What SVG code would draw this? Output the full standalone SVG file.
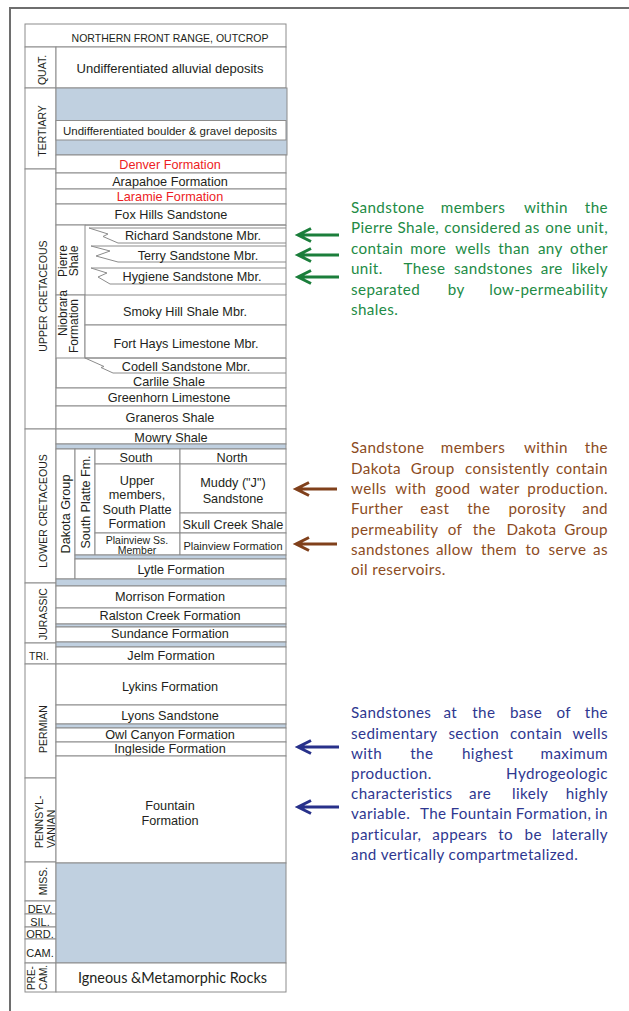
<svg xmlns="http://www.w3.org/2000/svg" width="629" height="1011" viewBox="0 0 629 1011">
<style>
.frame{stroke:#6e6e6e;stroke-width:2;fill:none}
.cell{fill:#fff;stroke:#8c8c8c;stroke-width:1}
.ln{fill:none;stroke:#8c8c8c;stroke-width:1}
.blue{fill:#c0d0e0;stroke:#8c8c8c;stroke-width:1}
.t{font-family:"Liberation Sans",Arial,sans-serif;font-size:12.7px;fill:#231f20;text-anchor:middle}
.hdr{font-size:10.5px}
.age{font-size:10.5px}
.sm{font-size:11px}
.xs{font-size:10.5px}
.st{text-anchor:start}
.red{fill:#ed1c24}
.note{font-family:Lato,"Open Sans",sans-serif;font-size:15.2px;letter-spacing:0.4px}
.e{text-anchor:end}
.gn{fill:#228b45}
.br{fill:#8c4b22}
.bl{fill:#2e3790}
.arr{fill:none;stroke-width:3;stroke-linejoin:miter}
.ag{stroke:#1b7e3b}
.ab{stroke:#80401b}
.an{stroke:#28318a}
</style>
<path class="frame" d="M10,1011 V8 H629"/>
<rect x="25" y="24" width="261" height="968" fill="#fff"/>

<g id="header"><rect class="cell" x="25" y="24" width="261" height="23"/><text class="t hdr" x="170" y="42">NORTHERN FRONT RANGE, OUTCROP</text></g>

<g id="age-quat"><rect class="cell" x="25" y="47" width="31" height="41"/><text class="t age" transform="translate(46,70) rotate(-90)">QUAT.</text></g>
<g id="age-tertiary"><rect class="cell" x="25" y="88" width="31" height="81"/><text class="t age" transform="translate(46,131) rotate(-90)">TERTIARY</text></g>
<g id="age-upper-cretaceous"><rect class="cell" x="25" y="169" width="31" height="260"/><text class="t age" transform="translate(47,296) rotate(-90)">UPPER CRETACEOUS</text></g>
<g id="age-lower-cretaceous"><rect class="cell" x="25" y="429" width="31" height="154"/><text class="t age" transform="translate(47,511) rotate(-90)">LOWER CRETACEOUS</text></g>
<g id="age-jurassic"><rect class="cell" x="25" y="583" width="31" height="60"/><text class="t age" transform="translate(47,614) rotate(-90)">JURASSIC</text></g>
<g id="age-triassic"><rect class="cell" x="25" y="643" width="31" height="21"/><text class="t age" x="39" y="660">TRI.</text></g>
<g id="age-permian"><rect class="cell" x="25" y="664" width="31" height="114"/><text class="t age" transform="translate(47,729) rotate(-90)">PERMIAN</text></g>
<g id="age-pennsylvanian"><rect class="cell" x="25" y="778" width="31" height="84"/><text class="t age st" transform="translate(43,848) rotate(-90)">PENNSYL-</text><text class="t age st" transform="translate(55,848) rotate(-90)">VANIAN</text></g>
<g id="age-miss"><rect class="cell" x="25" y="862" width="31" height="39"/><text class="t age" transform="translate(47,881) rotate(-90)">MISS.</text></g>
<g id="age-dev"><rect class="cell" x="25" y="901" width="31" height="13"/><text class="t sm" x="40" y="912.5">DEV.</text></g>
<g id="age-sil"><rect class="cell" x="25" y="914" width="31" height="13"/><text class="t sm" x="40" y="925.5">SIL.</text></g>
<g id="age-ord"><rect class="cell" x="25" y="927" width="31" height="12"/><text class="t sm" x="40" y="938">ORD.</text></g>
<g id="age-cam"><rect class="cell" x="25" y="939" width="31" height="24"/><text class="t sm" x="40" y="957">CAM.</text></g>
<g id="age-precam"><rect class="cell" x="25" y="963" width="31" height="29"/><text class="t" style="font-size:10px;text-anchor:start" transform="translate(35,990) rotate(-90)">PRE-</text><text class="t" style="font-size:10px;text-anchor:start" transform="translate(47,990) rotate(-90)">CAM.</text></g>

<g id="quat-alluvial"><rect class="cell" x="56" y="47" width="230" height="41"/><text class="t" style="font-size:13px" x="170" y="73">Undifferentiated alluvial deposits</text></g>
<g id="tertiary-gap"><rect class="blue" x="56" y="88" width="231" height="67"/></g>
<g id="boulder-gravel"><rect class="cell" x="56" y="120.5" width="230" height="19.5"/><text class="t" style="font-size:11.5px" x="170" y="134.5">Undifferentiated boulder &amp; gravel deposits</text></g>
<g id="denver"><rect class="cell" x="56" y="155" width="230" height="18"/><text class="t red" x="170" y="168.5">Denver Formation</text></g>
<g id="arapahoe"><rect class="cell" x="56" y="173" width="230" height="16"/><text class="t" x="170" y="185.5">Arapahoe Formation</text></g>
<g id="laramie"><rect class="cell" x="56" y="189" width="230" height="15"/><text class="t red" x="170" y="201">Laramie Formation</text></g>
<g id="fox-hills"><rect class="cell" x="56" y="204" width="230" height="21"/><text class="t" x="171" y="219">Fox Hills Sandstone</text></g>
<g id="pierre-shale"><rect class="cell" x="56" y="225" width="29" height="70"/><path class="ln" d="M85,225 H286 V295"/><text class="t" style="font-size:12px" transform="translate(67,261) rotate(-90)">Pierre</text><text class="t" style="font-size:12px" transform="translate(78,261) rotate(-90)">Shale</text></g>
<g id="richard"><path class="ln" d="M286,228 H89 L108,234 L103,236.5 L118,243 H286"/><text class="t" x="193" y="240">Richard Sandstone Mbr.</text></g>
<g id="terry"><path class="ln" d="M286,246 H91 L110,251 L96,256 L118,262 H286"/><text class="t" x="198" y="260">Terry Sandstone Mbr.</text></g>
<g id="hygiene"><path class="ln" d="M286,268 H91 L107,273 L98,277 L110,284 H286"/><text class="t" x="192" y="281">Hygiene Sandstone Mbr.</text></g>
<g id="niobrara"><rect class="cell" x="56" y="295" width="29" height="63"/><text class="t" style="font-size:12px" transform="translate(67,313) rotate(-90)">Niobrara</text><text class="t" style="font-size:12px" transform="translate(78,326) rotate(-90)">Formation</text></g>
<g id="smoky-hill"><rect class="cell" x="85" y="295" width="201" height="30"/><text class="t" x="185" y="315.5">Smoky Hill Shale Mbr.</text></g>
<g id="fort-hays"><rect class="cell" x="85" y="325" width="201" height="33"/><text class="t" x="186" y="347.5">Fort Hays Limestone Mbr.</text></g>
<g id="codell"><path class="ln" d="M85,358 H286 V373 H113 L101,367.5 L104,366.5 L85,358"/><text class="t" x="186" y="371">Codell Sandstone Mbr.</text></g>
<g id="carlile"><path class="ln" d="M56,358 V388 H286 V373"/><text class="t" x="169" y="386">Carlile Shale</text></g>
<g id="greenhorn"><rect class="cell" x="56" y="388" width="230" height="18"/><text class="t" x="169" y="402">Greenhorn Limestone</text></g>
<g id="graneros"><rect class="cell" x="56" y="406" width="230" height="23"/><text class="t" x="170" y="422">Graneros Shale</text></g>
<g id="mowry"><rect class="cell" x="56" y="429" width="230" height="15"/><text class="t" x="171" y="441.5">Mowry Shale</text></g>
<g id="gap-1"><rect class="blue" x="56" y="444" width="230" height="5"/></g>
<g id="dakota-group"><rect class="cell" x="56" y="449" width="19" height="130"/><text class="t" transform="translate(70,514) rotate(-90)">Dakota Group</text></g>
<g id="south-platte-fm"><rect class="cell" x="75" y="449" width="20" height="106"/><text class="t" style="font-size:12.5px" transform="translate(90,502) rotate(-90)">South Platte Fm.</text></g>
<g id="south"><rect class="cell" x="95" y="449" width="85" height="15"/><text class="t" x="136" y="461.5">South</text></g>
<g id="north"><rect class="cell" x="180" y="449" width="106" height="15"/><text class="t" x="232" y="461.5">North</text></g>
<g id="upper-members"><rect class="cell" x="95" y="464" width="85" height="69"/><text class="t" x="137" y="484.5">Upper</text><text class="t" x="137" y="499">members,</text><text class="t" x="137" y="513.5">South Platte</text><text class="t" x="137" y="528">Formation</text></g>
<g id="muddy"><rect class="cell" x="180" y="464" width="106" height="49"/><text class="t" x="233" y="487">Muddy ("J")</text><text class="t" x="233" y="502.5">Sandstone</text></g>
<g id="skull-creek"><rect class="cell" x="180" y="513" width="106" height="20"/><text class="t" x="233" y="528.5">Skull Creek Shale</text></g>
<g id="plainview-ss"><rect class="cell" x="95" y="533" width="85" height="22"/><text class="t xs" x="137" y="543.5">Plainview Ss.</text><text class="t xs" x="137" y="554">Member</text></g>
<g id="plainview-fm"><rect class="cell" x="180" y="533" width="106" height="22"/><text class="t sm" x="233" y="549.5">Plainview Formation</text></g>
<g id="gap-2"><rect class="blue" x="75" y="555" width="211" height="4"/></g>
<g id="lytle"><rect class="cell" x="75" y="559" width="211" height="20"/><text class="t" x="181" y="573.5">Lytle Formation</text></g>
<g id="gap-3"><rect class="blue" x="56" y="579" width="230" height="7"/></g>
<g id="morrison"><rect class="cell" x="56" y="586" width="230" height="22"/><text class="t" x="170" y="601">Morrison Formation</text></g>
<g id="ralston-creek"><rect class="cell" x="56" y="608" width="230" height="16"/><text class="t" x="170" y="619.5">Ralston Creek Formation</text></g>
<g id="gap-4"><rect class="blue" x="56" y="624" width="230" height="3"/></g>
<g id="sundance"><rect class="cell" x="56" y="627" width="230" height="15"/><text class="t" x="170" y="638">Sundance Formation</text></g>
<g id="gap-5"><rect class="blue" x="56" y="642" width="230" height="5"/></g>
<g id="jelm"><rect class="cell" x="56" y="647" width="230" height="17"/><text class="t" x="171" y="659.5">Jelm Formation</text></g>
<g id="lykins"><rect class="cell" x="56" y="664" width="230" height="41"/><text class="t" x="170" y="691">Lykins Formation</text></g>
<g id="lyons"><rect class="cell" x="56" y="705" width="230" height="19"/><text class="t" x="170" y="719.5">Lyons Sandstone</text></g>
<g id="gap-6"><rect class="blue" x="56" y="724" width="230" height="4"/></g>
<g id="owl-canyon"><rect class="cell" x="56" y="728" width="230" height="14"/><text class="t" x="170" y="739">Owl Canyon Formation</text></g>
<g id="ingleside"><rect class="cell" x="56" y="742" width="230" height="14"/><text class="t" x="170" y="752.5">Ingleside Formation</text></g>
<g id="fountain"><rect class="cell" x="56" y="756" width="230" height="107"/><text class="t" x="170" y="810">Fountain</text><text class="t" x="170" y="824.5">Formation</text></g>
<g id="gap-7"><rect class="blue" x="56" y="863" width="230" height="100"/></g>
<g id="igneous"><rect class="cell" x="56" y="963" width="230" height="29"/><text style="font-family:Lato,'Open Sans',sans-serif;font-size:15.5px;fill:#231f20" x="78" y="983" textLength="189" lengthAdjust="spacingAndGlyphs">Igneous &amp;Metamorphic Rocks</text></g>

<g id="note-pierre" class="note gn">
<text y="212.7"><tspan x="351">Sandstone</tspan><tspan x="440.8">members</tspan><tspan x="523.9">within</tspan></text><text class="e" x="608" y="212.7">the</text>
<text y="233.2"><tspan x="351">Pierre</tspan><tspan x="397.6">Shale,</tspan><tspan x="444.2">considered</tspan><tspan x="524.8">as</tspan><tspan x="545.3">one</tspan></text><text class="e" x="608" y="233.2">unit,</text>
<text y="253.7"><tspan x="351">contain</tspan><tspan x="410.3">more</tspan><tspan x="455.2">wells</tspan><tspan x="498.2">than</tspan><tspan x="537.9">any</tspan></text><text class="e" x="608" y="253.7">other</text>
<text y="274.2"><tspan x="351">unit.</tspan><tspan x="403.4">These</tspan><tspan x="453.9">sandstones</tspan><tspan x="540.7">are</tspan></text><text class="e" x="608" y="274.2">likely</text>
<text y="294.7"><tspan x="351">separated</tspan><tspan x="447.8">by</tspan></text><text class="e" x="608" y="294.7">low-permeability</text>
<text x="351" y="315.2">shales.</text>
</g>
<g id="note-dakota" class="note br">
<text y="453.3"><tspan x="351">Sandstone</tspan><tspan x="440.8">members</tspan><tspan x="523.9">within</tspan></text><text class="e" x="608" y="453.3">the</text>
<text y="473.6"><tspan x="351">Dakota</tspan><tspan x="410.8">Group</tspan><tspan x="465">consistently</tspan></text><text class="e" x="608" y="473.6">contain</text>
<text y="493.9"><tspan x="351">wells</tspan><tspan x="395.3">with</tspan><tspan x="435.3">good</tspan><tspan x="479.4">water</tspan></text><text class="e" x="608" y="493.9">production.</text>
<text y="514.2"><tspan x="351">Further</tspan><tspan x="420.2">east</tspan><tspan x="467.2">the</tspan><tspan x="508.4">porosity</tspan></text><text class="e" x="608" y="514.2">and</text>
<text y="534.5"><tspan x="351">permeability</tspan><tspan x="447.7">of</tspan><tspan x="472.7">the</tspan><tspan x="506.4">Dakota</tspan></text><text class="e" x="608" y="534.5">Group</text>
<text y="554.8"><tspan x="351">sandstones</tspan><tspan x="435.9">allow</tspan><tspan x="480.9">them</tspan><tspan x="525.5">to</tspan><tspan x="548.6">serve</tspan></text><text class="e" x="608" y="554.8">as</text>
<text x="351" y="575.1">oil reservoirs.</text>
</g>
<g id="note-base" class="note bl">
<text y="718.3"><tspan x="351">Sandstones</tspan><tspan x="443.5">at</tspan><tspan x="472.2">the</tspan><tspan x="509.9">base</tspan><tspan x="556.5">of</tspan></text><text class="e" x="608" y="718.3">the</text>
<text y="738.5"><tspan x="351">sedimentary</tspan><tspan x="448.4">section</tspan><tspan x="510.1">contain</tspan></text><text class="e" x="608" y="738.5">wells</text>
<text y="758.7"><tspan x="351">with</tspan><tspan x="410.2">the</tspan><tspan x="462">highest</tspan></text><text class="e" x="608" y="758.7">maximum</text>
<text x="351" y="778.9">production.</text><text class="e" x="608" y="778.9">Hydrogeologic</text>
<text y="799.1"><tspan x="351">characteristics</tspan><tspan x="469.1">are</tspan><tspan x="512">likely</tspan></text><text class="e" x="608" y="799.1">highly</text>
<text y="819.3"><tspan x="351">variable.</tspan><tspan x="419.9">The</tspan><tspan x="450.4">Fountain</tspan><tspan x="515.7">Formation,</tspan></text><text class="e" x="608" y="819.3">in</text>
<text y="839.5"><tspan x="351">particular,</tspan><tspan x="432.3">appears</tspan><tspan x="498.2">to</tspan><tspan x="524.5">be</tspan></text><text class="e" x="608" y="839.5">laterally</text>
<text x="351" y="859.7">and vertically compartmetalized.</text>
</g>

<g id="connectors">
<path class="arr ag" d="M339,235 H299 M311,228.5 L298,235 L311,241.5"/>
<path class="arr ag" d="M339,255 H299 M311,248.5 L298,255 L311,261.5"/>
<path class="arr ag" d="M339,277 H299 M311,270.5 L298,277 L311,283.5"/>
<path class="arr ab" d="M337,489 H297 M309,482.5 L296,489 L309,495.5"/>
<path class="arr ab" d="M337,544 H297 M309,537.5 L296,544 L309,550.5"/>
<path class="arr an" d="M339,747 H299 M311,740.5 L298,747 L311,753.5"/>
<path class="arr an" d="M339,807 H299 M311,800.5 L298,807 L311,813.5"/>
</g>
</svg>
